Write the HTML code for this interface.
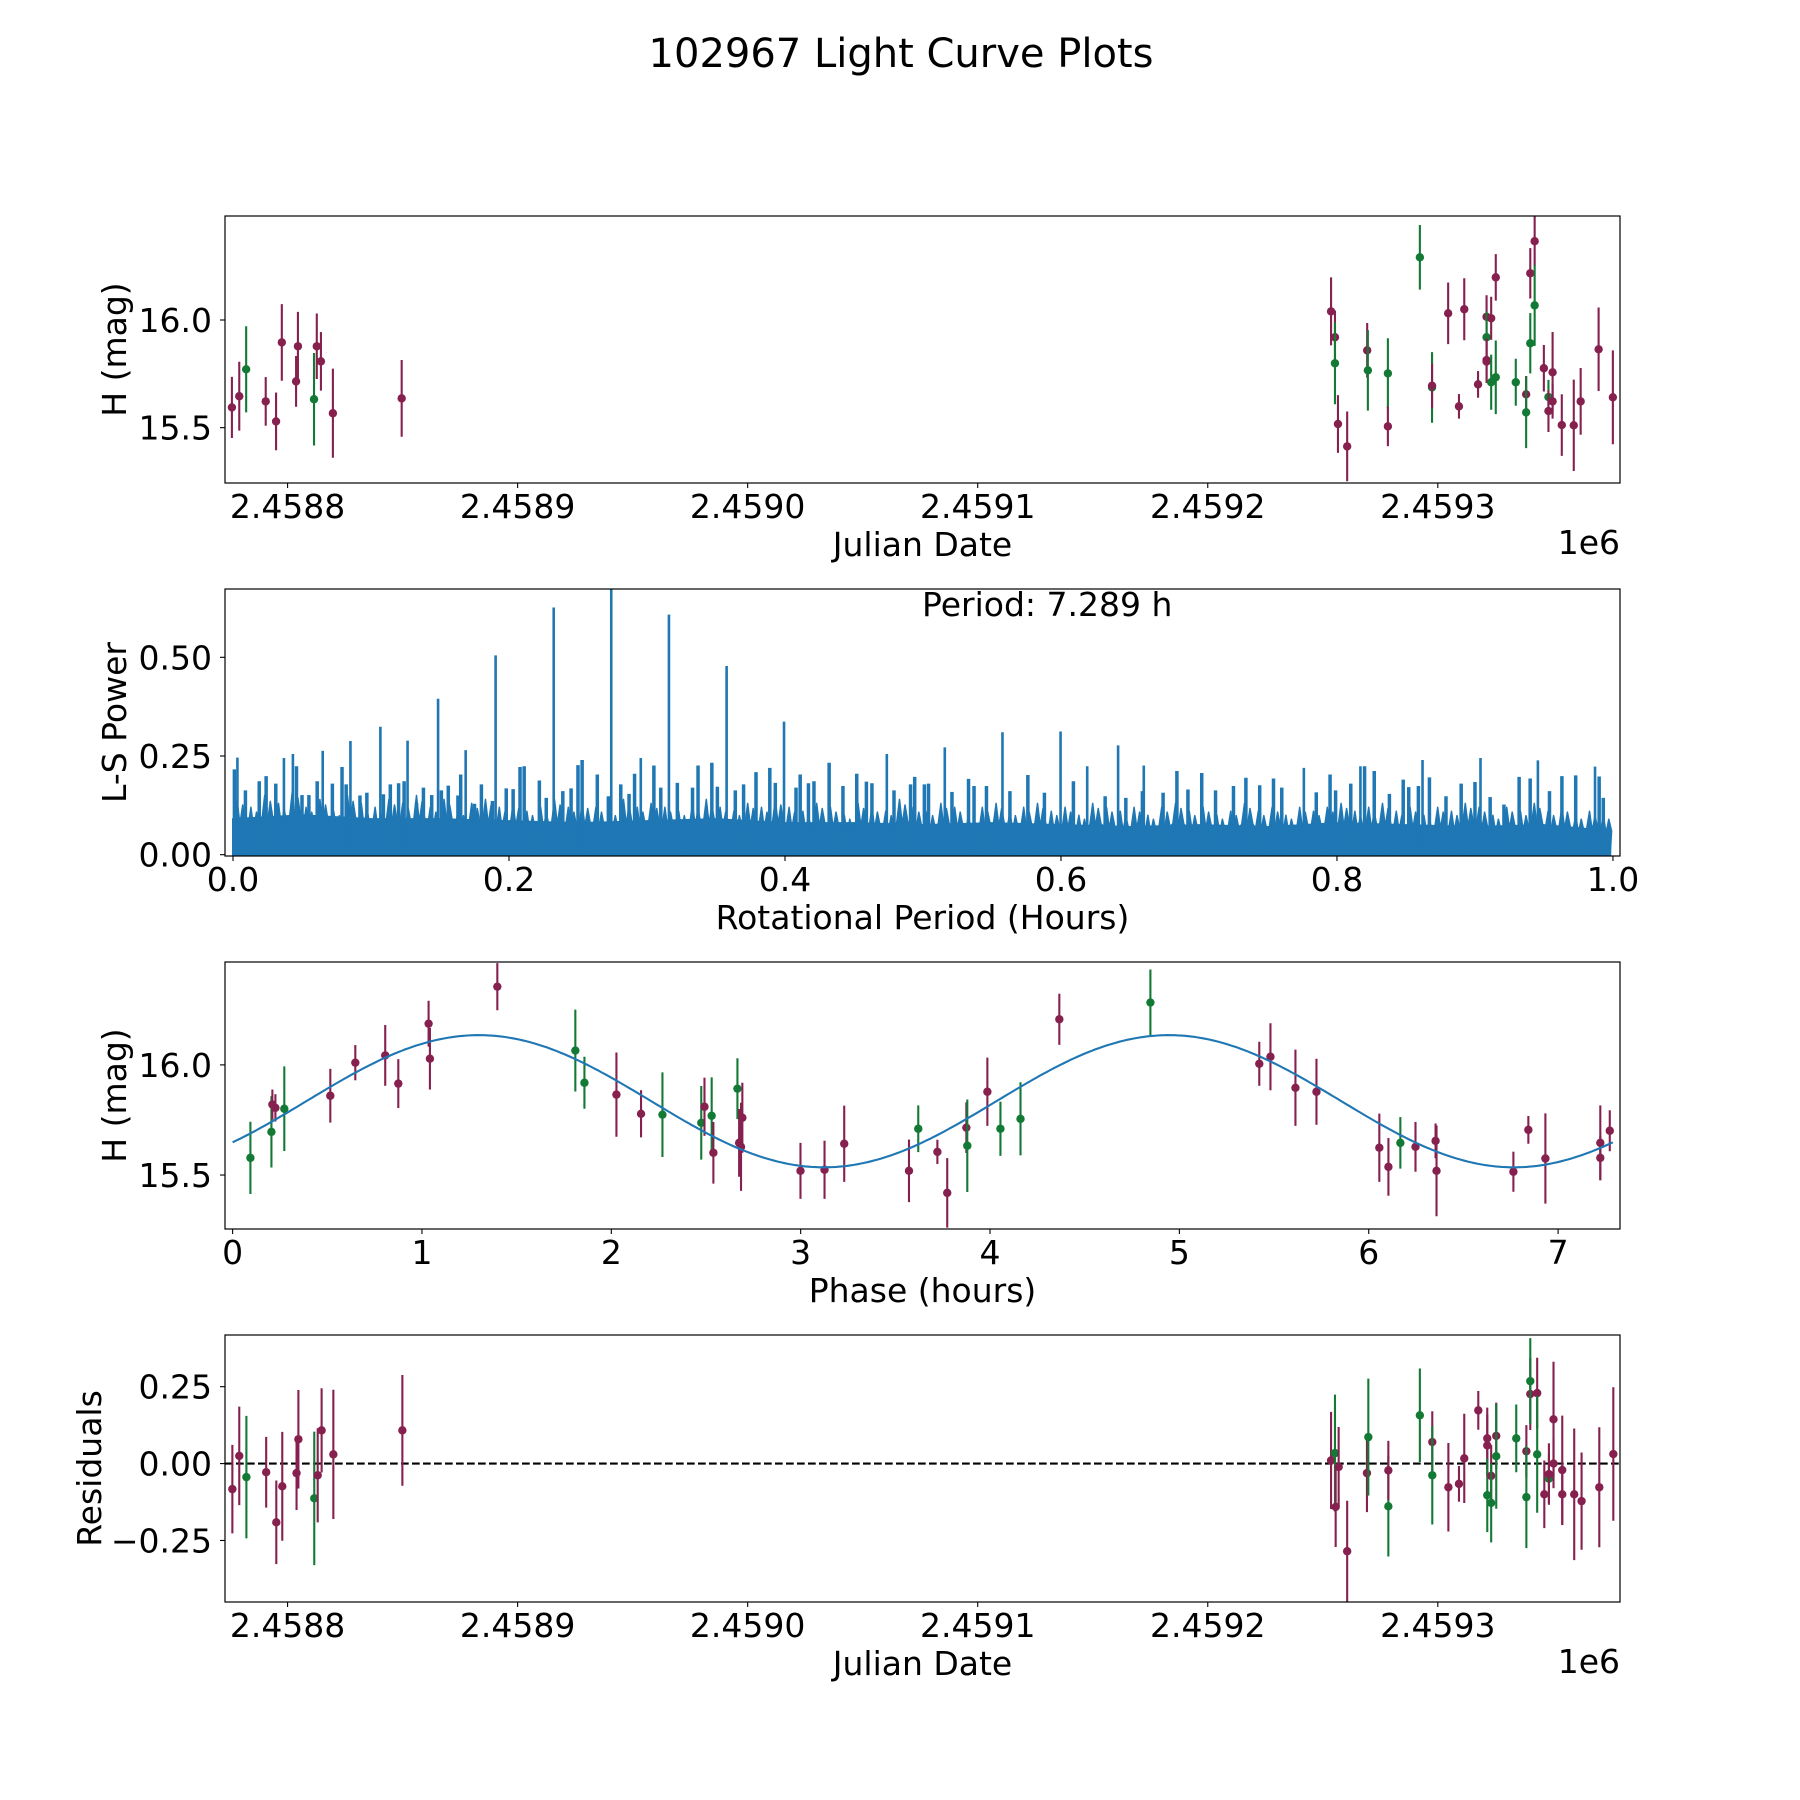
<!DOCTYPE html>
<html><head><meta charset="utf-8"><title>102967 Light Curve Plots</title>
<style>html,body{margin:0;padding:0;background:#fff}svg{display:block;font-family:"DejaVu Sans","Liberation Sans",sans-serif}</style>
</head><body>
<svg id="fig" width="1800" height="1800" viewBox="0 0 1800 1800" xmlns="http://www.w3.org/2000/svg">
<rect width="1800" height="1800" fill="#fff"/>
<text x="901" y="67" font-size="40" text-anchor="middle">102967 Light Curve Plots</text>
</svg>
<script>
// ---- Panel 1: light curve (days = JD - 2458800) ----
const lcDays = [-24.2,-21.0,-18.0,-9.5,-5.0,-2.5,3.7,4.5,11.5,12.7,14.5,19.7,49.6,
 453.6,455.3,455.3,456.6,460.6,469.3,469.6,478.3,478.3,492.2,497.5,497.5,504.5,509.2,511.5,517.5,521.2,521.2,521.2,521.2,523.2,523.2,525.2,525.2,533.9,538.4,538.4,540.2,540.2,542.1,542.1,546.1,548.1,548.1,549.9,549.9,553.9,559.1,562.1,569.9,576.1];
const lcMag = [15.594,15.646,15.771,15.622,15.529,15.896,15.715,15.878,15.632,15.878,15.808,15.567,15.636,
 16.040,15.920,15.799,15.517,15.413,15.859,15.766,15.752,15.506,16.291,15.687,15.695,16.031,15.599,16.050,15.701,16.015,15.920,15.814,15.807,16.008,15.711,16.198,15.734,15.711,15.655,15.571,16.217,15.892,16.366,16.068,15.776,15.642,15.577,15.757,15.622,15.512,15.511,15.622,15.864,15.641];
const lcErr = [0.142,0.16,0.2,0.113,0.134,0.178,0.118,0.16,0.215,0.152,0.136,0.207,0.178,
 0.158,0.124,0.19,0.134,0.162,0.127,0.187,0.163,0.092,0.15,0.164,0.103,0.143,0.057,0.144,0.062,0.1,0.12,0.1,0.1,0.1,0.128,0.108,0.171,0.109,0.085,0.166,0.117,0.14,0.115,0.188,0.108,0.08,0.097,0.187,0.08,0.143,0.212,0.155,0.194,0.218];
const lcFilt = ['P','P','G','P','P','P','P','P','G','P','P','P','P',
 'P','P','G','P','P','P','G','G','P','G','G','P','P','P','P','P','P','G','P','P','P','G','P','G','G','P','G','P','G','P','G','P','G','P','P','P','P','P','P','P','P'];
const jdTicks = [0,100,200,300,400,500];
const jdTickLabels = ['2.4588','2.4589','2.4590','2.4591','2.4592','2.4593'];

// ---- Panel 2: periodogram ----
const peakPeriod = [0.1068,0.1265,0.0851,0.065,0.0032,0.0434,0.0369,0.1486,0.1686,0.1903,0.2324,0.2741,0.2955,0.3159,0.3577,0.3993,0.4738,0.5158,0.5576,0.5997,0.6414,0.660,0.619,0.776,0.817,0.862,0.904,0.9456,0.987];
const peakPower = [0.324,0.289,0.288,0.263,0.246,0.255,0.245,0.395,0.265,0.505,0.626,0.72,0.245,0.608,0.478,0.337,0.255,0.272,0.310,0.312,0.277,0.226,0.224,0.220,0.224,0.240,0.245,0.239,0.223];
const spikePeriod = [0.001,0.009,0.019,0.024,0.031,0.046,0.050,0.055,0.061,0.072,0.079,0.082,0.092,0.097,0.109,0.114,0.120,0.124,0.133,0.138,0.144,0.151,0.156,0.163,0.165,0.175,0.180,0.188,0.198,0.203,0.208,0.211,0.222,0.227,0.239,0.245,0.250,0.253,0.264,0.272,0.281,0.287,0.291,0.305,0.310,0.322,0.333,0.337,0.347,0.351,0.364,0.370,0.379,0.389,0.393,0.408,0.411,0.417,0.421,0.432,0.442,0.452,0.459,0.463,0.479,0.491,0.494,
 0.501,0.504,0.521,0.533,0.537,0.546,0.563,0.576,0.588,0.609,0.632,0.647,0.659,0.674,0.684,0.692,0.702,0.712,0.725,0.734,0.744,0.754,0.760,0.785,0.795,0.799,0.810,0.820,0.827,0.838,0.848,0.852,0.859,0.867,0.879,0.890,0.900,0.911,0.921,0.932,0.940,0.954,0.963,0.973,0.990,0.993];
const spikePower = [0.216,0.163,0.186,0.199,0.180,0.224,0.151,0.151,0.186,0.180,0.222,0.178,0.150,0.157,0.153,0.178,0.181,0.186,0.131,0.170,0.151,0.163,0.175,0.150,0.203,0.129,0.178,0.136,0.168,0.166,0.222,0.224,0.188,0.144,0.161,0.168,0.227,0.240,0.203,0.148,0.178,0.154,0.205,0.226,0.170,0.182,0.170,0.226,0.233,0.172,0.163,0.178,0.209,0.220,0.182,0.170,0.203,0.181,0.186,0.233,0.174,0.205,0.185,0.181,0.163,0.178,0.197,
 0.178,0.180,0.159,0.192,0.174,0.174,0.161,0.202,0.157,0.186,0.148,0.144,0.161,0.157,0.212,0.165,0.207,0.163,0.174,0.195,0.176,0.193,0.170,0.158,0.203,0.163,0.180,0.224,0.212,0.154,0.190,0.171,0.174,0.196,0.148,0.180,0.184,0.146,0.127,0.197,0.193,0.161,0.199,0.201,0.198,0.144,0.176];
// mid-level noise texture, one value per 0.01 h bin starting at 0.005
const midPower = [0.14,0.12,0.15,0.13,0.16,0.12,0.14,0.11,0.15,0.13,0.12,0.14,0.13,0.15,0.12,0.14,0.11,0.13,0.14,0.12,
 0.13,0.11,0.12,0.14,0.12,0.13,0.12,0.11,0.14,0.12,0.13,0.12,0.11,0.13,0.14,0.12,0.11,0.13,0.12,0.14,
 0.12,0.11,0.13,0.12,0.10,0.13,0.12,0.11,0.14,0.12,0.11,0.13,0.12,0.10,0.12,0.13,0.11,0.12,0.13,0.11,
 0.12,0.10,0.13,0.12,0.11,0.12,0.10,0.12,0.13,0.11,0.12,0.10,0.11,0.13,0.11,0.12,0.10,0.12,0.11,0.12,
 0.13,0.11,0.12,0.13,0.11,0.12,0.10,0.12,0.11,0.13,0.12,0.10,0.12,0.11,0.13,0.11,0.12,0.10,0.11,0.10];
const baseBins = [0.00,0.05,0.10,0.15,0.20,0.25,0.30,0.35,0.40,0.45,0.50,0.55,0.60,0.65,0.70,0.75,0.80,0.85,0.90,0.95,0.998];
const basePower = [0.09,0.10,0.09,0.09,0.085,0.08,0.085,0.09,0.08,0.08,0.075,0.08,0.075,0.07,0.075,0.07,0.08,0.075,0.07,0.075,0.06];
const lsTicks = [0,0.25,0.5]; const lsTickLabels = ['0.00','0.25','0.50'];
const perTicks = [0,0.2,0.4,0.6,0.8,1.0]; const perTickLabels = ['0.0','0.2','0.4','0.6','0.8','1.0'];

// ---- Panel 3: phased ----
const phHours = [0.094,0.205,0.210,0.226,0.273,0.516,0.648,0.806,0.875,1.035,1.042,1.398,1.810,1.858,2.027,2.157,2.270,2.475,2.492,2.530,2.539,2.666,2.675,2.685,2.692,2.999,3.126,3.230,3.572,3.621,
 3.722,3.774,3.875,3.880,3.986,4.055,4.161,4.366,4.847,5.422,5.481,5.613,5.724,6.056,6.104,6.167,6.247,6.353,6.358,6.764,6.843,6.933,7.223,7.223,7.273];
const phMag = [15.578,15.696,15.820,15.805,15.801,15.860,16.010,16.043,15.915,16.187,16.028,16.355,16.065,15.919,15.865,15.778,15.774,15.737,15.810,15.769,15.601,15.892,15.646,15.628,15.760,15.519,15.524,15.642,15.519,15.710,
 15.605,15.419,15.715,15.633,15.878,15.710,15.755,16.207,16.283,16.005,16.037,15.896,15.878,15.624,15.537,15.646,15.628,15.655,15.519,15.515,15.705,15.575,15.646,15.578,15.701];
const phErr = [0.164,0.162,0.068,0.062,0.192,0.122,0.080,0.138,0.111,0.104,0.140,0.107,0.186,0.118,0.191,0.107,0.192,0.167,0.132,0.174,0.140,0.138,0.154,0.2,0.159,0.127,0.132,0.173,0.142,0.106,
 0.055,0.158,0.115,0.21,0.155,0.123,0.166,0.116,0.15,0.10,0.152,0.173,0.15,0.155,0.131,0.117,0.113,0.079,0.206,0.091,0.063,0.205,0.17,0.1,0.093];
const phFilt = ['G','G','P','P','G','P','P','P','P','P','P','P','G','G','P','P','G','G','P','G','P','G','P','P','P','P','P','P','P','G',
 'P','P','P','G','P','G','G','P','G','P','P','P','P','P','P','G','P','P','P','P','P','P','P','P','P'];
const fitMean = 15.835, fitAmp = 0.30, fitPeriod = 3.6445, fitPeak = 1.30;
const phTicks = [0,1,2,3,4,5,6,7]; const phTickLabels = ['0','1','2','3','4','5','6','7'];
const magTicks = [15.5,16.0]; const magTickLabels = ['15.5','16.0'];

// ---- Panel 4: residuals ----
const resDays = [-24.0,-21.0,-17.9,-9.3,-4.9,-2.3,3.9,4.7,11.6,13.1,14.8,19.9,49.9,
 453.6,455.3,455.6,456.9,460.6,469.2,469.8,478.5,478.5,492.2,497.6,497.6,504.6,509.2,511.5,517.6,521.5,521.5,521.5,523.2,523.2,525.4,525.4,534.1,538.5,538.5,540.2,540.2,543.2,543.2,546.3,548.3,548.3,550.3,550.3,554.1,554.1,559.3,562.5,570.2,576.3];
const resVal = [-0.083,0.025,-0.044,-0.028,-0.191,-0.074,-0.031,0.079,-0.113,-0.038,0.108,0.030,0.108,
 0.010,0.034,-0.141,-0.011,-0.285,-0.031,0.086,-0.139,-0.022,0.157,0.070,-0.038,-0.077,-0.066,0.017,0.173,0.082,0.059,-0.103,-0.040,-0.128,0.090,0.024,0.082,0.040,-0.109,0.226,0.268,0.229,0.030,-0.100,-0.049,-0.034,0.144,0.0,-0.021,-0.100,-0.100,-0.122,-0.077,0.031];
const resErr = [0.144,0.16,0.199,0.115,0.136,0.177,0.12,0.16,0.217,0.153,0.137,0.21,0.18,
 0.158,0.19,0.13,0.13,0.164,0.127,0.19,0.163,0.096,0.152,0.1,0.16,0.144,0.058,0.145,0.063,0.1,0.1,0.12,0.1,0.128,0.108,0.171,0.11,0.085,0.166,0.117,0.14,0.115,0.19,0.11,0.08,0.1,0.187,0.08,0.177,0.1,0.214,0.158,0.195,0.217];
const resFilt = ['P','P','G','P','P','P','P','P','G','P','P','P','P',
 'P','G','P','P','P','P','G','G','P','G','P','G','P','P','P','P','P','P','G','P','G','P','G','G','P','G','P','G','P','G','P','G','P','P','P','P','P','P','P','P','P'];
const resTicks = [-0.25,0,0.25]; const resTickLabels = ['\u22120.25','0.00','0.25'];

const NS = 'http://www.w3.org/2000/svg';
const svg = document.getElementById('fig');
const COL = {P:'#86204f', G:'#137a35'};
function el(tag, attrs, parent) {
  const e = document.createElementNS(NS, tag);
  for (const k in attrs) e.setAttribute(k, attrs[k]);
  (parent || svg).appendChild(e);
  return e;
}
const L = 225, R = 1620;
const FS = 33;
function makeAxes(top, bottom, xmin, xmax, ymin, ymax) {
  return {
    top, bottom,
    x: v => L + (v - xmin) / (xmax - xmin) * (R - L),
    y: v => bottom - (v - ymin) / (ymax - ymin) * (bottom - top)
  };
}
function drawFrame(ax, name, xt, xtl, yt, ytl, xlabel, ylabel, ylabelX, offsetText) {
  const g = el('g', {});
  
  
  const cp = el('clipPath', {id: 'clip-' + name}, g);
  el('rect', {x: L, y: ax.top, width: R - L, height: ax.bottom - ax.top}, cp);
  xt.forEach((v, i) => {
    const x = ax.x(v);
    const t = el('line', {x1: x, x2: x, y1: ax.bottom, y2: ax.bottom + 5, stroke: '#000', 'stroke-width': 1.1}, g);
    
    
    const lab = el('text', {x: x, y: ax.bottom + 35, 'font-size': FS, 'text-anchor': 'middle'}, g);
    
    
    lab.textContent = xtl[i];
  });
  yt.forEach((v, i) => {
    const y = ax.y(v);
    const t = el('line', {x1: L - 5, x2: L, y1: y, y2: y, stroke: '#000', 'stroke-width': 1.1}, g);
    
    
    const lab = el('text', {x: 212, y: y + 12, 'font-size': FS, 'text-anchor': 'end'}, g);
    
    
    lab.textContent = ytl[i];
  });
  const xl = el('text', {x: (L + R) / 2, y: ax.bottom + 73, 'font-size': FS, 'text-anchor': 'middle'}, g);
  
  
  xl.textContent = xlabel;
  const cy = (ax.top + ax.bottom) / 2;
  const yl = el('text', {x: ylabelX, y: cy, 'font-size': FS, 'text-anchor': 'middle', transform: 'rotate(-90 ' + ylabelX + ' ' + cy + ')'}, g);
  
  
  yl.textContent = ylabel;
  if (offsetText) {
    const ot = el('text', {x: R, y: ax.bottom + 71, 'font-size': FS, 'text-anchor': 'end'}, g);
    
    
    ot.textContent = offsetText;
  }
  return g;
}
function drawBorder(ax) {
  const b = el('rect', {x: L, y: ax.top, width: R - L, height: ax.bottom - ax.top, fill: 'none', stroke: '#000', 'stroke-width': 1.2});
  
  
}
function drawErr(ax, xs, ys, es, fs, name) {
  const g = el('g', {'clip-path': 'url(#clip-' + name + ')'});
  
  
  xs.forEach((v, i) => {
    const x = ax.x(v), c = COL[fs[i]];
    const ln = el('line', {x1: x, x2: x, y1: ax.y(ys[i] - es[i]), y2: ax.y(ys[i] + es[i]), stroke: c, 'stroke-width': 2.1}, g);
    
    
    const d = el('circle', {cx: x, cy: ax.y(ys[i]), r: 4.2, fill: c}, g);
    
    
  });
}

// Panel 1
const ax1 = makeAxes(216, 483, -27.2, 579.2, 15.243, 16.483);
drawFrame(ax1, 'light-curve-panel', jdTicks, jdTickLabels, magTicks, magTickLabels, 'Julian Date', 'H (mag)', 126, '1e6');
drawErr(ax1, lcDays, lcMag, lcErr, lcFilt, 'light-curve-panel');
drawBorder(ax1);

// Panel 2
const ax2 = makeAxes(589, 856, -0.0058, 1.0051, -0.0033, 0.673);
drawFrame(ax2, 'periodogram-panel', perTicks, perTickLabels, lsTicks, lsTickLabels, 'Rotational Period (Hours)', 'L-S Power', 126, null);
(function () {
  const g = el('g', {'clip-path': 'url(#clip-periodogram-panel)'});
  
  
  let pts = ax2.x(baseBins[0]) + ',' + ax2.y(0);
  baseBins.forEach((b, i) => { pts += ' ' + ax2.x(b) + ',' + ax2.y(basePower[i]); });
  pts += ' ' + ax2.x(baseBins[baseBins.length - 1]) + ',' + ax2.y(0);
  const poly = el('polygon', {points: pts, fill: '#1f77b4', stroke: '#1f77b4', 'stroke-width': 2}, g);
  
  
  let mp = ax2.x(0) + ',' + ax2.y(0);
  midPower.forEach((v, i) => {
    const p = 0.005 + i * 0.01;
    mp += ' ' + ax2.x(p - 0.004).toFixed(1) + ',' + ax2.y(v * 0.6).toFixed(1);
    mp += ' ' + ax2.x(p - 0.002).toFixed(1) + ',' + ax2.y(v).toFixed(1);
    mp += ' ' + ax2.x(p).toFixed(1) + ',' + ax2.y(v * 0.55).toFixed(1);
    mp += ' ' + ax2.x(p + 0.002).toFixed(1) + ',' + ax2.y(v * 0.9).toFixed(1);
    mp += ' ' + ax2.x(p + 0.004).toFixed(1) + ',' + ax2.y(v * 0.6).toFixed(1);
  });
  mp += ' ' + ax2.x(0.998) + ',' + ax2.y(0);
  const mid = el('polygon', {points: mp, fill: '#1f77b4', stroke: '#1f77b4', 'stroke-width': 1.5, 'stroke-linejoin': 'round'}, g);
  
  
  spikePeriod.forEach((p, i) => {
    const x = ax2.x(p);
    const s = el('line', {x1: x, x2: x, y1: ax2.y(0), y2: ax2.y(spikePower[i]), stroke: '#1f77b4', 'stroke-width': 3.5}, g);
    
    
  });
  peakPeriod.forEach((p, i) => {
    const x = ax2.x(p);
    const s = el('line', {x1: x, x2: x, y1: ax2.y(0), y2: ax2.y(peakPower[i]), stroke: '#1f77b4', 'stroke-width': 2.6}, g);
    
    
  });
})();
drawBorder(ax2);
const pt = el('text', {x: 922, y: 616, 'font-size': FS});


pt.textContent = 'Period: 7.289 h';

// Panel 3
const ax3 = makeAxes(962, 1229, -0.0402, 7.327, 15.255, 16.467);
drawFrame(ax3, 'phased-panel', phTicks, phTickLabels, magTicks, magTickLabels, 'Phase (hours)', 'H (mag)', 126, null);
drawErr(ax3, phHours, phMag, phErr, phFilt, 'phased-panel');
(function () {
  let d = '';
  for (let i = 0; i <= 400; i++) {
    const ph = 7.289 * i / 400;
    const m = fitMean + fitAmp * Math.cos(2 * Math.PI * (ph - fitPeak) / fitPeriod);
    d += (i ? 'L' : 'M') + ax3.x(ph).toFixed(1) + ',' + ax3.y(m).toFixed(1);
  }
  const p = el('path', {d: d, fill: 'none', stroke: '#1f77b4', 'stroke-width': 2.1});
  
  
})();
drawBorder(ax3);

// Panel 4
const ax4 = makeAxes(1335, 1602, -27.2, 579.2, -0.450, 0.418);
drawFrame(ax4, 'residuals-panel', jdTicks, jdTickLabels, resTicks, resTickLabels, 'Julian Date', 'Residuals', 101, '1e6');
const zl = el('line', {x1: L, x2: R, y1: ax4.y(0), y2: ax4.y(0), stroke: '#000', 'stroke-width': 2.1, 'stroke-dasharray': '7.7 3.3'});


drawErr(ax4, resDays, resVal, resErr, resFilt, 'residuals-panel');
drawBorder(ax4);
</script>
</body></html>
